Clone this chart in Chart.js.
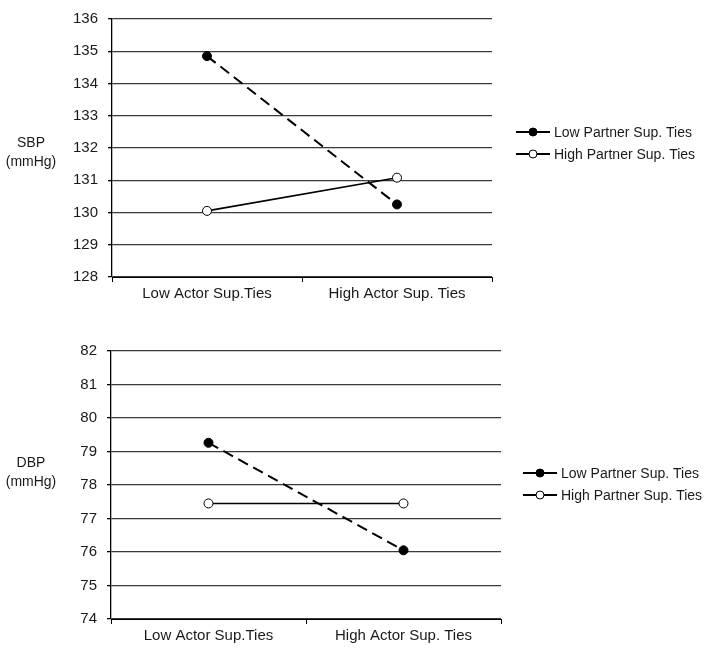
<!DOCTYPE html>
<html>
<head>
<meta charset="utf-8">
<script src="https://cdn.jsdelivr.net/npm/chart.js@4.4.0/dist/chart.umd.min.js"></script>
<style>
  html, body { margin: 0; padding: 0; background: #fff; }
  .box { position: relative; width: 709px; }
  canvas { display: block; }
</style>
</head>
<body>
<div class="box" style="height:320px"><canvas id="sbp"></canvas></div>
<div class="box" style="height:329px"><canvas id="dbp"></canvas></div>
<script>
// data
const categories = ['Low Actor Sup.Ties', 'High Actor Sup. Ties'];
const seriesNames = ['Low Partner Sup. Ties', 'High Partner Sup. Ties'];
const sbpLowPartner = [134.85, 130.25];
const sbpHighPartner = [130.05, 131.08];
const dbpLowPartner = [79.26, 76.05];
const dbpHighPartner = [77.45, 77.45];
const sbpTicks = [128, 136];
const dbpTicks = [74, 82];

const FONT = 'Arial, "Liberation Sans", sans-serif';

// legend with line + marker, and the horizontal y-axis title
function extrasPlugin(title, legendX, legendY) {
    return {
        id: 'extras',
        afterDraw(chart) {
            const c = chart.ctx;
            c.save();
            c.fillStyle = '#1a1a1a';
            c.font = '14px ' + FONT;
            c.textAlign = 'center';
            c.textBaseline = 'middle';
            c.fillText(title, 31, 143);
            c.fillText('(mmHg)', 31, 162);

            chart.data.datasets.forEach((ds, i) => {
                const y = legendY + i * 22;
                c.strokeStyle = '#000';
                c.lineWidth = 2;
                c.setLineDash([]);
                c.beginPath();
                c.moveTo(legendX, y);
                c.lineTo(legendX + 34, y);
                c.stroke();
                c.beginPath();
                c.arc(legendX + 17, y, 4, 0, Math.PI * 2);
                c.fillStyle = ds.pointBackgroundColor;
                c.fill();
                c.lineWidth = 1;
                c.stroke();
                c.fillStyle = '#1a1a1a';
                c.textAlign = 'left';
                c.font = '14px ' + FONT;
                c.fillText(ds.label, legendX + 38, y + 1);
            });
            c.restore();
        }
    };
}

function makeChart(id, title, low, high, range, opts) {
    return new Chart(document.getElementById(id), {
        type: 'line',
        data: {
            labels: categories,
            datasets: [{
                label: seriesNames[0],
                data: low,
                borderColor: '#000',
                borderWidth: 2,
                borderDash: [11, 6],
                pointRadius: 4.5,
                pointBackgroundColor: '#000',
                pointBorderColor: '#000',
                pointBorderWidth: 1,
                tension: 0
            }, {
                label: seriesNames[1],
                data: high,
                borderColor: '#000',
                borderWidth: 1.6,
                pointRadius: 4.5,
                pointBackgroundColor: '#fff',
                pointBorderColor: '#000',
                pointBorderWidth: 1,
                tension: 0
            }]
        },
        options: {
            responsive: true,
            maintainAspectRatio: false,
            animation: false,
            layout: { padding: { left: 0, right: opts.right, top: opts.top, bottom: 0 } },
            plugins: { legend: { display: false }, tooltip: { enabled: false } },
            scales: {
                x: {
                    offset: true,
                    grid: { offset: true, drawOnChartArea: false, drawTicks: true, tickLength: 5, color: '#000' },
                    border: { color: '#000', width: 1 },
                    ticks: { color: '#1a1a1a', font: { size: 15, family: FONT }, padding: 3, maxRotation: 0 },
                    afterFit: s => { s.height = opts.xHeight; }
                },
                y: {
                    min: range[0],
                    max: range[1],
                    ticks: { stepSize: 1, color: '#1a1a1a', font: { size: 15, family: FONT }, padding: 10 },
                    grid: { color: '#3a3a3a', lineWidth: 1.3, tickLength: 4, tickColor: '#000' },
                    border: { color: '#000', width: 1.3 },
                    afterFit: s => { s.width = opts.left; }
                }
            }
        },
        plugins: [extrasPlugin(title, opts.legendX, opts.legendY)]
    });
}

makeChart('sbp', 'SBP', sbpLowPartner, sbpHighPartner, sbpTicks,
    { left: 112, right: 217, top: 10, xHeight: 43, legendX: 516, legendY: 132 });
makeChart('dbp', 'DBP', dbpLowPartner, dbpHighPartner, dbpTicks,
    { left: 111, right: 208, top: 31, xHeight: 30, legendX: 523, legendY: 153 });
</script>
</body>
</html>
